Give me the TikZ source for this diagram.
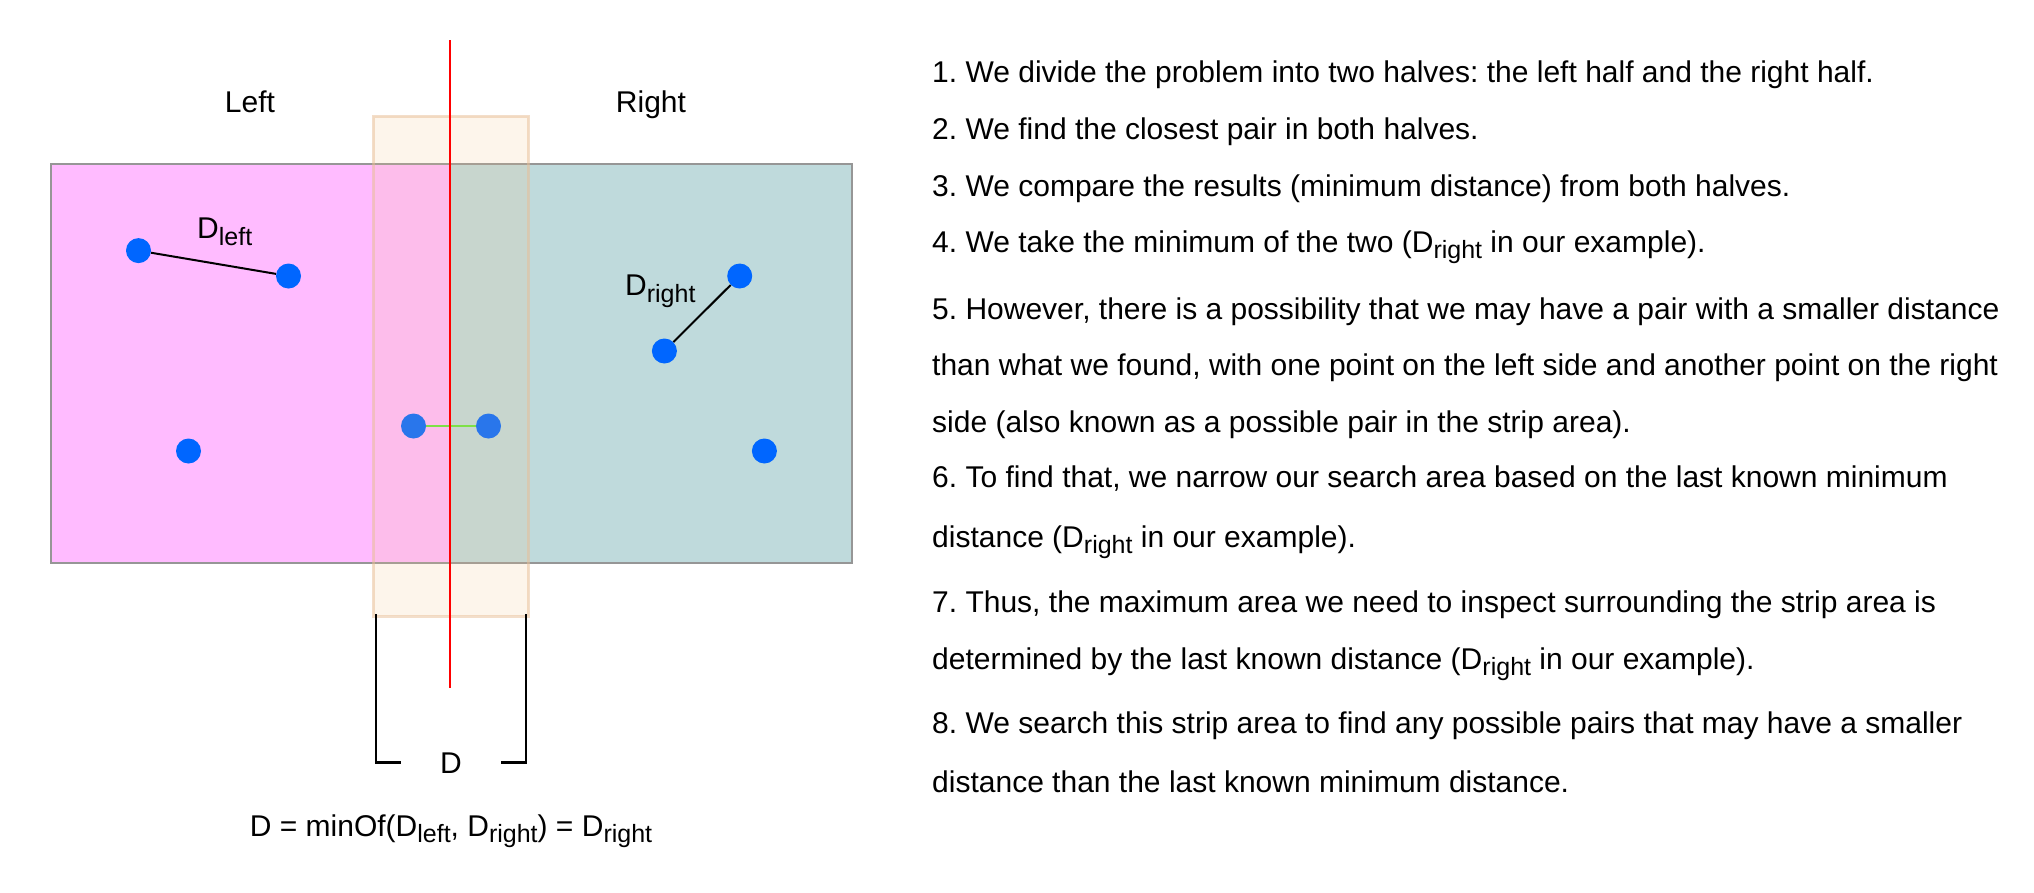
\documentclass[tikz,border=0pt]{standalone}
\usepackage{fontspec}
\setmainfont{Liberation Sans}
\usetikzlibrary{positioning}
\frenchspacing

\definecolor{ptblue}{RGB}{0,102,255}
\definecolor{leftfill}{RGB}{255,187,255}
\definecolor{rightfill}{RGB}{191,218,220}
\definecolor{stripfill}{RGB}{249,200,140}
\definecolor{stripedge}{RGB}{232,190,150}
\definecolor{rectedge}{RGB}{150,150,150}
\definecolor{pairgreen}{RGB}{102,230,58}

\newcommand{\dsub}[1]{\raisebox{-0.22em}{\fontsize{25}{25}\selectfont #1}}

\begin{document}
\begin{tikzpicture}[
  x=1pt, y=-1pt,
  every node/.style={font=\fontsize{30}{36}\selectfont, inner sep=0pt},
  dot/.style={circle, fill=ptblue, minimum size=25pt},
  pairln/.style={line width=2pt},
  bracket/.style={line width=2.5pt},
  halfbox/.style={draw=rectedge, line width=2pt},
  txt/.style={anchor=base west}
]
  \useasboundingbox (0,0) rectangle (2034,892);
  \fill[white] (0,0) rectangle (2034,892);

  % the two halves
  \filldraw[halfbox, fill=leftfill]  (50.6,163.6) rectangle (450,563);
  \filldraw[halfbox, fill=rightfill] (450,163.6) rectangle (852,563);
  \node[anchor=base] (lleft)  at (250,112.5) {Left};
  \node[anchor=base] (lright) at (651,112.5) {Right};

  % points
  \node[dot] (pl1) at (138.5,250.6) {};
  \node[dot] (pl2) at (288.5,276) {};
  \node[dot] (pl3) at (188.5,451) {};
  \node[dot] (pr1) at (739.7,276) {};
  \node[dot] (pr2) at (664.4,351) {};
  \node[dot] (pr3) at (764.4,451) {};
  \node[dot] (ps1) at (413.5,426) {};
  \node[dot] (ps2) at (488.5,426) {};
  \draw[pairln] (pl1) -- (pl2);
  \draw[pairln] (pr1) -- (pr2);
  \draw[pairln, pairgreen] (ps1) -- (ps2);
  \node[txt] (dleft)  at (197,238.6) {D\dsub{left}};
  \node[txt] (dright) at (625,295.5) {D\dsub{right}};

  % strip
  \filldraw[fill=stripfill, fill opacity=0.17, draw=stripedge, draw opacity=0.5,
    line width=3pt] (373,116) rectangle (528.5,616);

  % divider
  \coordinate (divTop) at (450,40);
  \coordinate (divBot) at (450,688);
  \draw[red, line width=2pt] (divTop) -- (divBot);

  % bracket
  \node[anchor=base, inner xsep=39pt] (dlbl) at (451,773) {D};
  \coordinate (brL) at (376,614);
  \coordinate (brR) at (526,614);
  \draw[bracket] (brL) |- (dlbl.west);
  \draw[bracket] (brR) |- (dlbl.east);
  \node[anchor=base] (formula) at (451,836)
    {D = minOf(D\dsub{left}, D\dsub{right}) = D\dsub{right}};

  % steps
  \node[txt] (s1)  at (932,82)  {1. We divide the problem into two halves: the left half and the right half.};
  \node[txt] (s2)  at (932,139) {2. We find the closest pair in both halves.};
  \node[txt] (s3)  at (932,196) {3. We compare the results (minimum distance) from both halves.};
  \node[txt] (s4)  at (932,252) {4. We take the minimum of the two (D\dsub{right} in our example).};
  \node[txt] (s5a) at (932,319) {5. However, there is a possibility that we may have a pair with a smaller distance};
  \node[txt] (s5b) at (932,375) {than what we found, with one point on the left side and another point on the right};
  \node[txt] (s5c) at (932,432) {side (also known as a possible pair in the strip area).};
  \node[txt] (s6a) at (932,487) {6. To find that, we narrow our search area based on the last known minimum};
  \node[txt] (s6b) at (932,547) {distance (D\dsub{right} in our example).};
  \node[txt] (s7a) at (932,612) {7. Thus, the maximum area we need to inspect surrounding the strip area is};
  \node[txt] (s7b) at (932,669) {determined by the last known distance (D\dsub{right} in our example).};
  \node[txt] (s8a) at (932,733) {8. We search this strip area to find any possible pairs that may have a smaller};
  \node[txt] (s8b) at (932,792) {distance than the last known minimum distance.};
\end{tikzpicture}
\end{document}
